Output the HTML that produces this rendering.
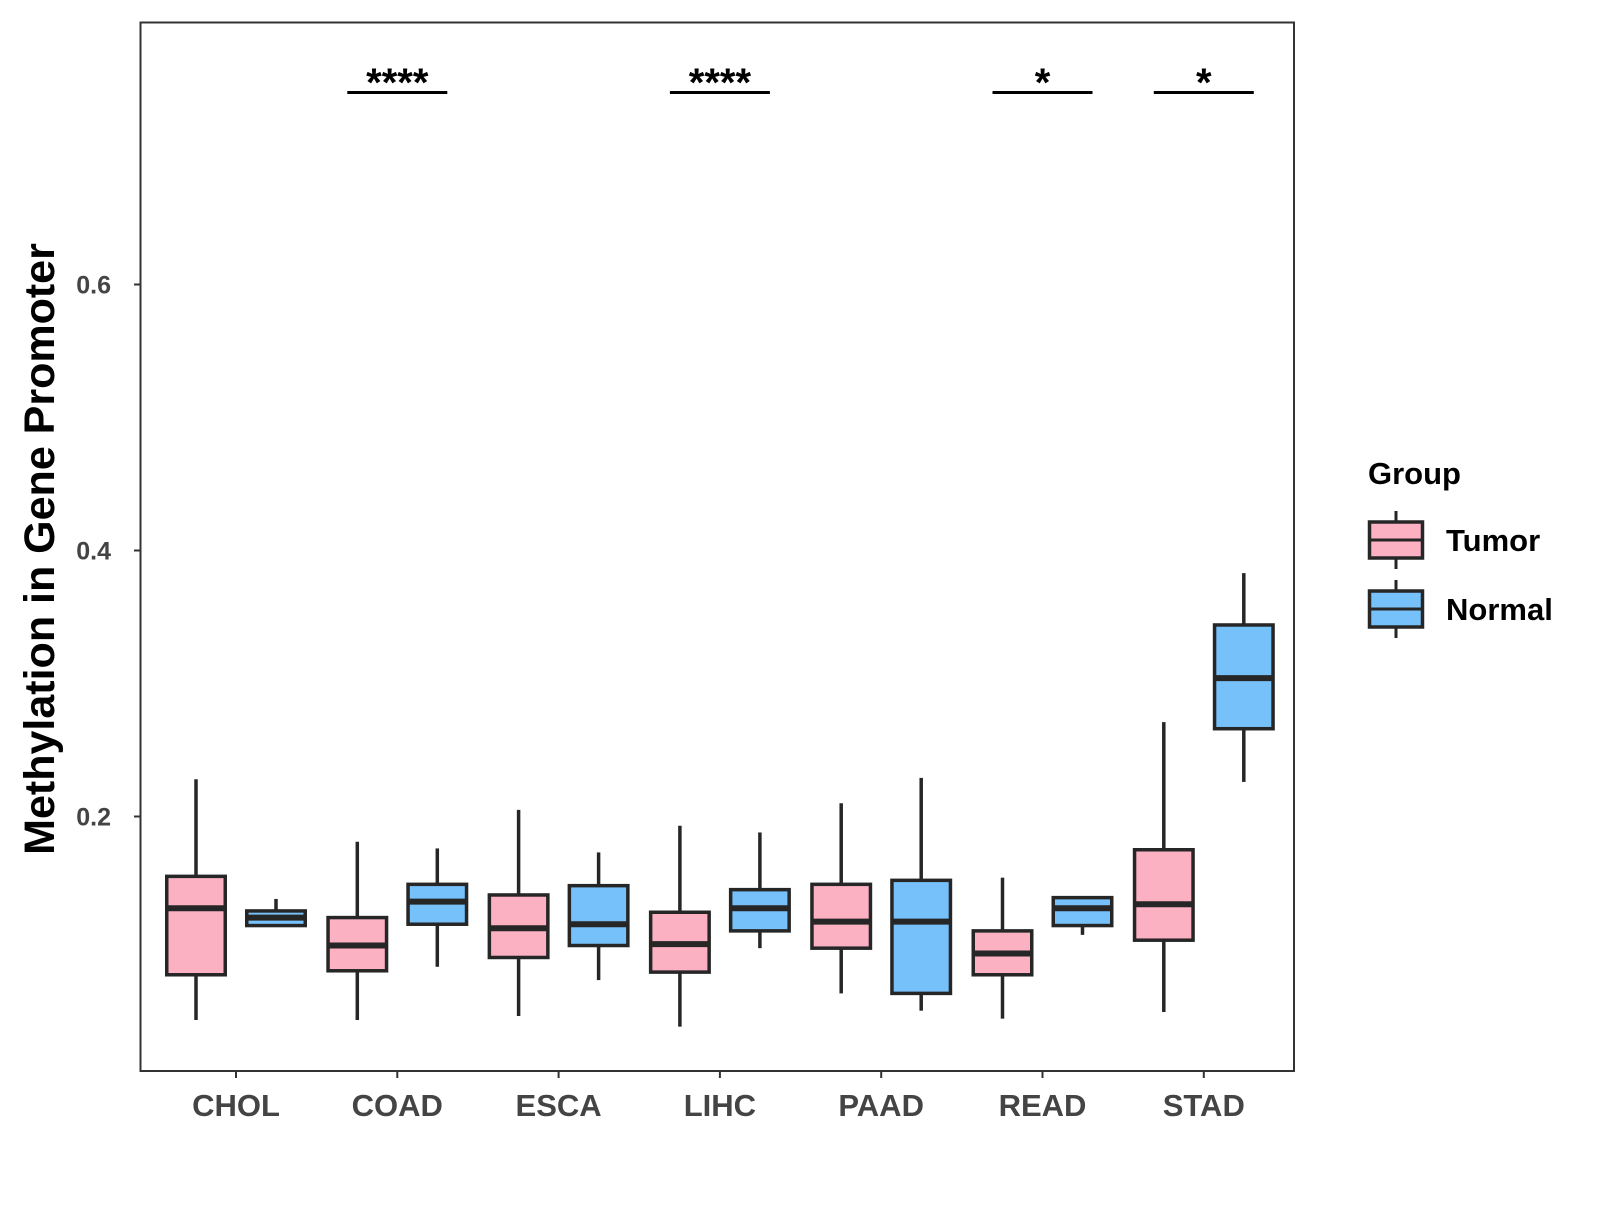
<!DOCTYPE html>
<html><head><meta charset="utf-8"><style>
body{margin:0;background:#fff;}
text{font-family:"Liberation Sans",Arial,sans-serif;font-weight:bold;}
</style></head><body>
<svg id="chart" width="1600" height="1200" xmlns="http://www.w3.org/2000/svg"></svg>
<script>
const categories=["CHOL","COAD","ESCA","LIHC","PAAD","READ","STAD"];
const tumorStats=[[0.047,0.081,0.131,0.155,0.228],[0.047,0.084,0.103,0.124,0.181],[0.050,0.094,0.116,0.141,0.205],[0.042,0.083,0.104,0.128,0.193],[0.067,0.101,0.121,0.149,0.210],[0.048,0.081,0.097,0.114,0.154],[0.053,0.107,0.134,0.175,0.271]];
const normalStats=[[0.118,0.118,0.124,0.129,0.138],[0.087,0.119,0.136,0.149,0.176],[0.077,0.103,0.119,0.148,0.173],[0.101,0.114,0.131,0.145,0.188],[0.054,0.067,0.121,0.152,0.229],[0.111,0.118,0.131,0.139,0.140],[0.226,0.266,0.304,0.344,0.383]];
const yTicks=[0.2,0.4,0.6];
const sigLabels=["","****","","****","","*","*"];
const NS="http://www.w3.org/2000/svg";
const svg=document.getElementById("chart");
function y(v){return 816.5-(v-0.2)*1330;}
function x(i){return 236+i*161.3;}
function el(t,a,p){const e=document.createElementNS(NS,t);for(const k in a)e.setAttribute(k,a[k]);(p||svg).appendChild(e);return e;}
const panel=el("rect",{x:140.5,y:22.5,width:1153.5,height:1048.5,fill:"none",stroke:"#333","stroke-width":2});


yTicks.forEach(v=>{
 const t=el("line",{x1:134,x2:140,y1:y(v),y2:y(v),stroke:"#333","stroke-width":2});
 
 
 const l=el("text",{x:111,y:y(v)+9,"text-anchor":"end","font-size":25,fill:"#444"});l.textContent=v.toFixed(1);
 
 
});
function box(cx,s,fill,name){
 const g=el("g",{});
 
 
 const w=58.5,st="#262626";
 el("line",{x1:cx,x2:cx,y1:y(s[4]),y2:y(s[3]),stroke:st,"stroke-width":3.5},g);
 el("line",{x1:cx,x2:cx,y1:y(s[1]),y2:y(s[0]),stroke:st,"stroke-width":3.5},g);
 el("rect",{x:cx-w/2,y:y(s[3]),width:w,height:Math.max(y(s[1])-y(s[3]),0.5),fill:fill,stroke:st,"stroke-width":3.5},g);
 el("line",{x1:cx-w/2,x2:cx+w/2,y1:y(s[2]),y2:y(s[2]),stroke:st,"stroke-width":6},g);
}
categories.forEach((c,i)=>{
 box(x(i)-40,tumorStats[i],"#FCB1C3","box-tumor-"+c.toLowerCase());
 box(x(i)+40,normalStats[i],"#76C1FA","box-normal-"+c.toLowerCase());
 const t=el("line",{x1:x(i),x2:x(i),y1:1072,y2:1078,stroke:"#333","stroke-width":2});
 
 
 const l=el("text",{x:x(i),y:1116,"text-anchor":"middle","font-size":31,fill:"#444"});l.textContent=c;
 
 
 if(sigLabels[i]){
  const b=el("line",{x1:x(i)-50,x2:x(i)+50,y1:92.5,y2:92.5,stroke:"#000","stroke-width":3});
  
  
  const s=el("text",{x:x(i),y:96,"text-anchor":"middle","font-size":40,fill:"#000"});s.textContent=sigLabels[i];
  
  
 }
});
const yt=el("text",{x:0,y:0,"text-anchor":"middle","font-size":43,fill:"#000",transform:"translate(54,549) rotate(-90)"});yt.textContent="Methylation in Gene Promoter";


const lg=el("text",{x:1368,y:484,"font-size":31,fill:"#000"});lg.textContent="Group";


[["Tumor","#FCB1C3",540],["Normal","#76C1FA",609]].forEach(([n,f,cy])=>{
 const g=el("g",{});
 
 
 el("line",{x1:1396,x2:1396,y1:cy-29,y2:cy+29,stroke:"#262626","stroke-width":3},g);
 el("rect",{x:1369.5,y:cy-18,width:53,height:36,fill:f,stroke:"#262626","stroke-width":3.5},g);
 el("line",{x1:1369.5,x2:1422.5,y1:cy,y2:cy,stroke:"#262626","stroke-width":3},g);
 const t=el("text",{x:1446,y:cy+11,"font-size":31,fill:"#000"},g);t.textContent=n;
});
</script>
</body></html>
